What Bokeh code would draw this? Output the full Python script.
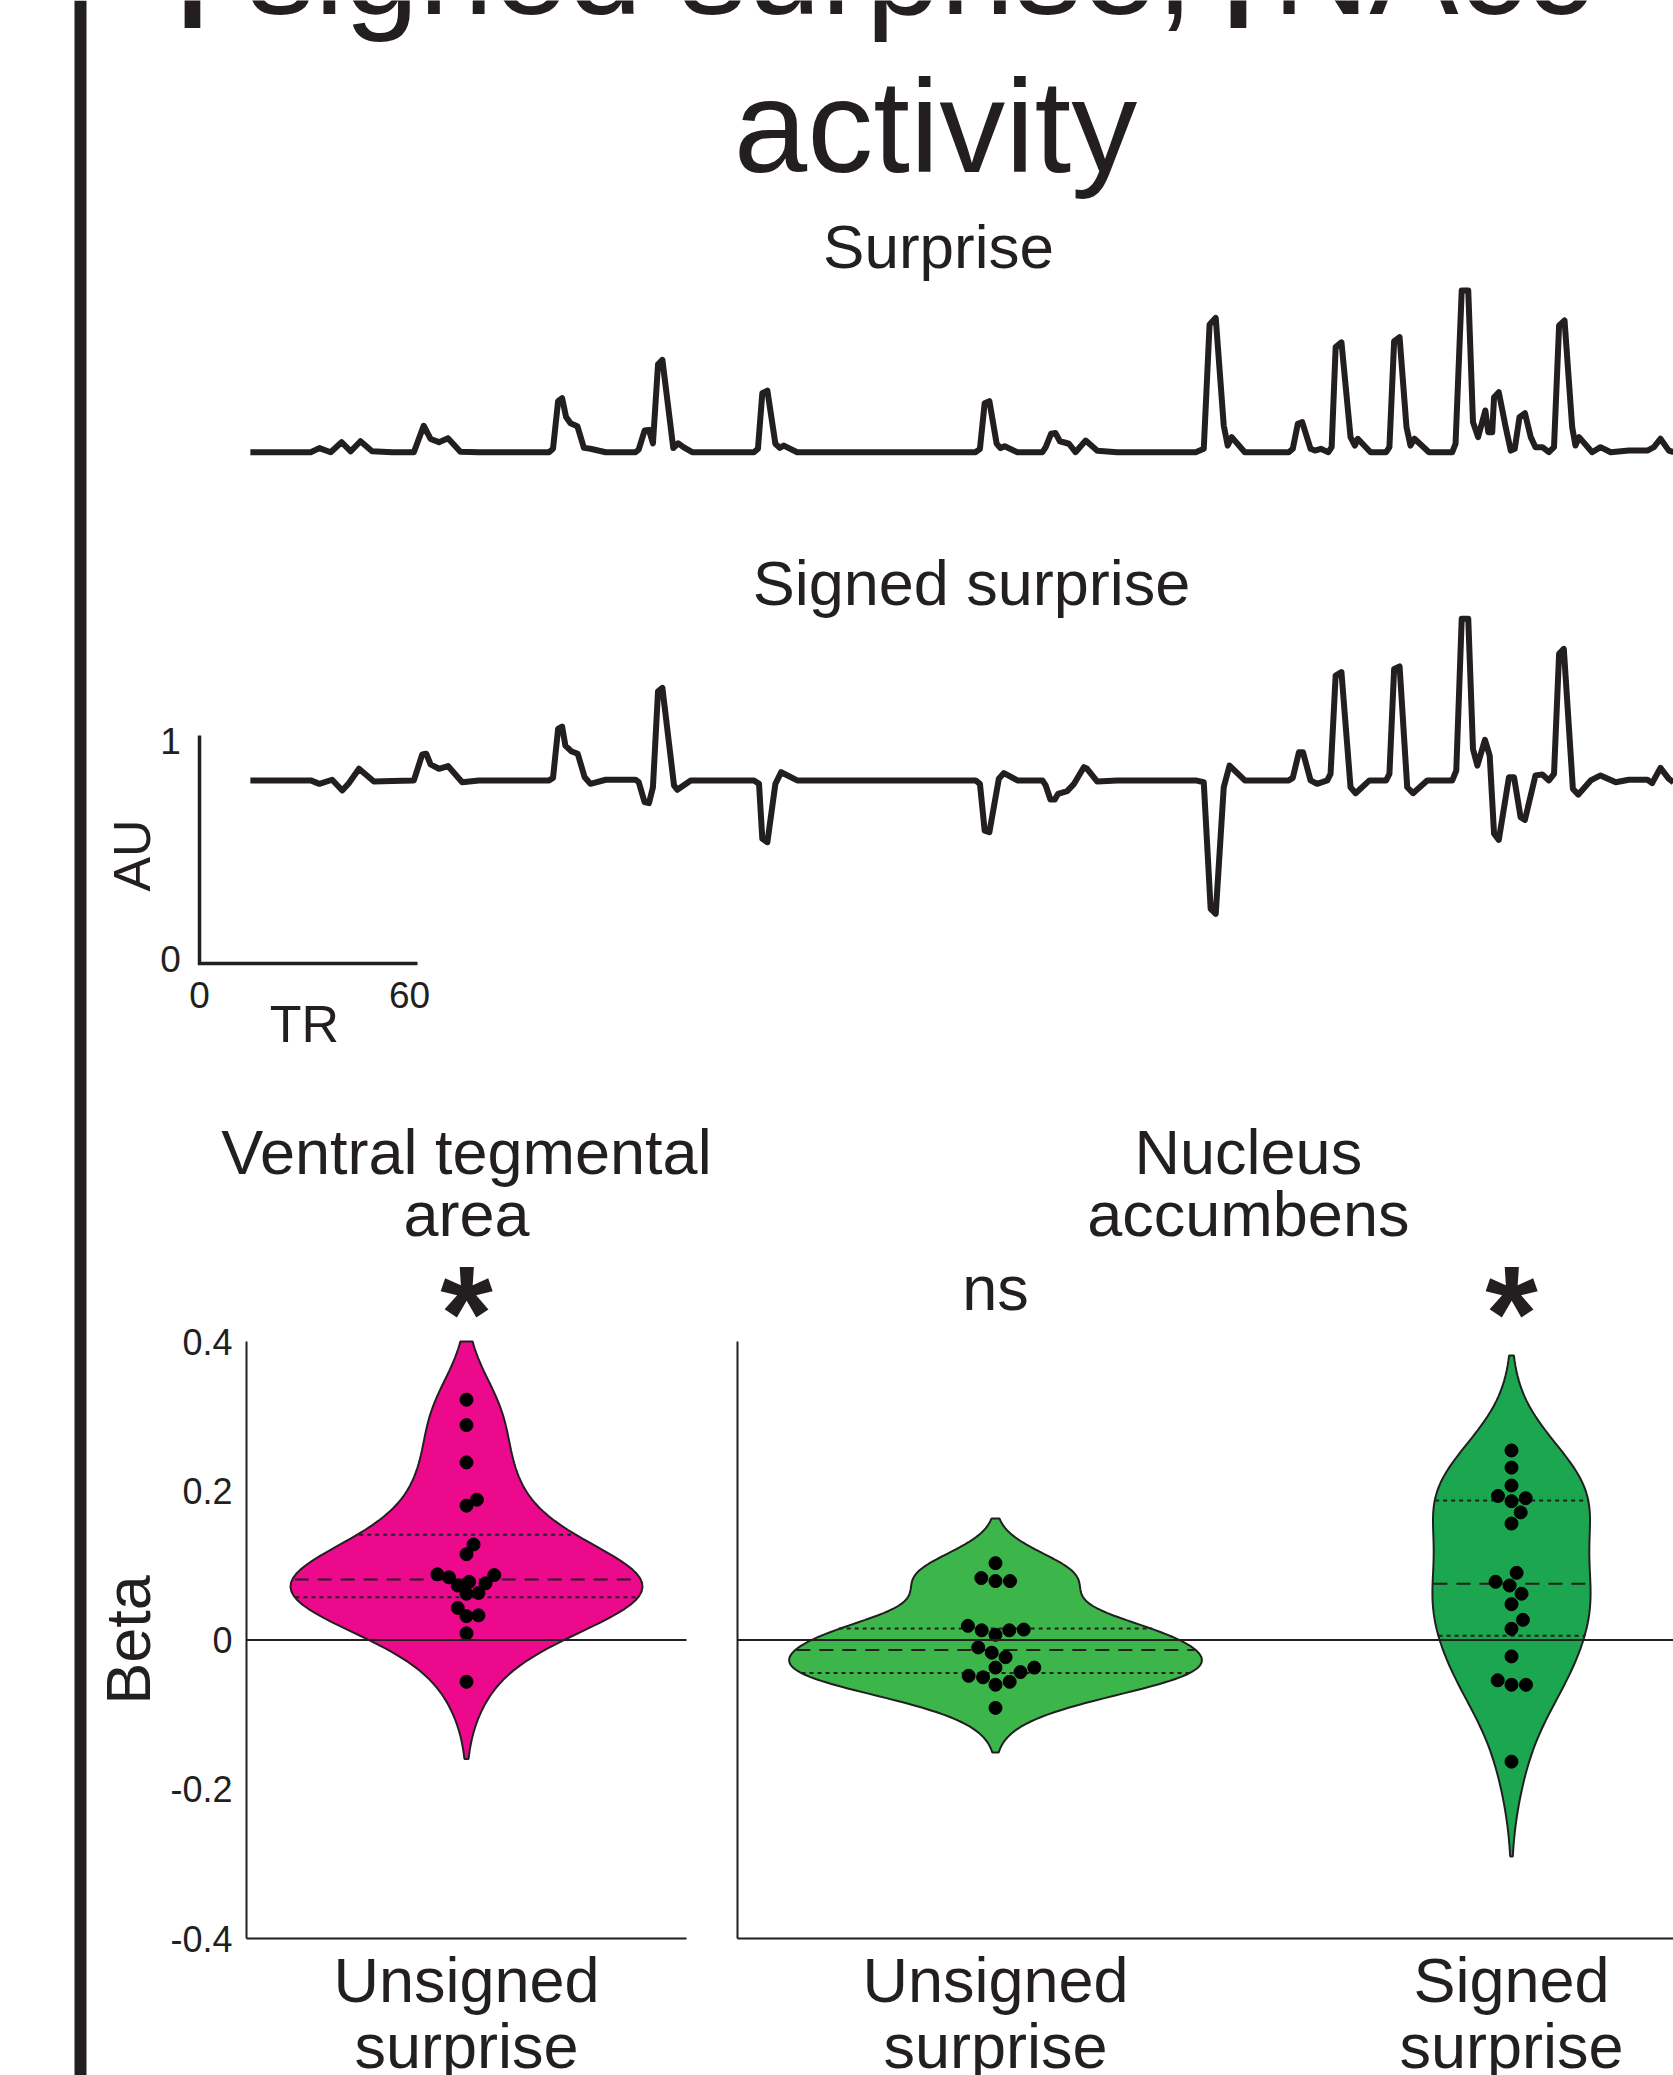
import numpy as np
from bokeh.plotting import figure
from bokeh.models import Range1d, Span, LinearAxis, FixedTicker
from bokeh.embed import file_html
from bokeh.resources import INLINE
from bokeh.core.properties import value

FONT = "Liberation Sans"
ARROW_FONT = "DejaVu Sans"
INK = "#231f20"

# ---------------- data ----------------
title_pieces = ["\u2191", "signed surprise,", "\u2191", "NAcc"]
title_line2 = "activity"
trace_titles = ["Surprise", "Signed surprise"]

# (TR, AU) vertices of the unsigned surprise regressor (AU above its own baseline)
surprise_points = [
    (14.0, 0.000), (30.6, 0.000), (33.0, 0.018), (36.1, 0.000), (39.1, 0.044), (41.6, 0.004),
    (44.3, 0.048), (47.5, 0.004), (53.0, 0.000), (59.0, 0.000), (61.7, 0.116), (63.6, 0.058),
    (65.9, 0.044), (68.4, 0.061), (71.8, 0.002), (76.9, 0.000), (96.2, 0.000), (97.3, 0.015),
    (98.7, 0.224), (99.8, 0.237), (100.9, 0.154), (102.1, 0.127), (104.0, 0.114), (105.8, 0.019),
    (107.6, 0.015), (111.8, 0.000), (120.0, 0.000), (120.9, 0.012), (122.5, 0.095), (123.7, 0.098),
    (124.8, 0.039), (126.2, 0.385), (127.4, 0.405), (130.4, 0.018), (131.7, 0.039), (133.3, 0.021),
    (135.6, 0.000), (152.6, 0.000), (153.7, 0.015), (154.9, 0.259), (156.3, 0.270), (158.5, 0.037),
    (159.7, 0.019), (160.8, 0.029), (164.5, 0.000), (213.6, 0.000), (214.8, 0.015), (216.1, 0.215),
    (217.4, 0.224), (219.4, 0.037), (220.5, 0.018), (221.6, 0.026), (225.1, 0.000), (232.0, 0.000),
    (232.9, 0.022), (234.4, 0.081), (235.6, 0.084), (236.8, 0.048), (239.3, 0.037), (241.1, 0.000),
    (243.9, 0.051), (247.1, 0.006), (252.6, 0.000), (274.2, 0.000), (276.4, 0.015), (278.0, 0.560),
    (279.7, 0.589), (281.9, 0.117), (283.0, 0.029), (284.1, 0.066), (287.7, 0.000), (299.8, 0.000),
    (300.9, 0.015), (302.3, 0.125), (303.5, 0.132), (305.8, 0.015), (307.0, 0.007), (308.6, 0.015),
    (310.7, 0.000), (311.6, 0.022), (312.7, 0.461), (314.3, 0.482), (316.8, 0.066), (318.0, 0.029),
    (318.8, 0.059), (322.3, 0.000), (326.6, 0.000), (327.5, 0.022), (328.8, 0.487), (330.3, 0.504),
    (332.2, 0.110), (333.3, 0.029), (334.4, 0.059), (338.4, 0.000), (344.8, 0.000), (345.7, 0.037),
    (347.4, 0.709), (349.2, 0.709), (350.5, 0.132), (351.9, 0.066), (353.9, 0.183), (354.7, 0.088),
    (355.8, 0.088), (356.3, 0.241), (357.6, 0.263), (359.5, 0.110), (360.9, 0.007), (362.0, 0.015),
    (363.3, 0.154), (364.8, 0.171), (366.4, 0.066), (367.7, 0.022), (369.6, 0.022), (371.4, 0.000),
    (372.8, 0.022), (374.2, 0.556), (375.7, 0.578), (377.8, 0.110), (378.7, 0.029), (379.7, 0.066),
    (383.3, 0.000), (385.6, 0.022), (388.4, 0.000), (393.4, 0.007), (398.5, 0.007), (400.3, 0.022),
    (402.1, 0.059), (404.4, 0.007), (405.7, 0.000),
]

# (TR, AU) vertices of the signed surprise regressor
signed_points = [
    (14.0, 0.803), (30.6, 0.803), (33.0, 0.788), (36.5, 0.806), (39.3, 0.759), (41.1, 0.791),
    (43.9, 0.854), (48.0, 0.798), (53.0, 0.800), (59.0, 0.803), (61.3, 0.917), (62.4, 0.920),
    (63.6, 0.873), (65.9, 0.854), (68.4, 0.866), (72.3, 0.795), (76.9, 0.803), (96.2, 0.803),
    (97.3, 0.814), (98.7, 1.029), (99.8, 1.039), (100.7, 0.956), (102.3, 0.931), (104.1, 0.920),
    (106.0, 0.817), (107.6, 0.788), (111.8, 0.806), (120.0, 0.806), (120.9, 0.795), (122.5, 0.708),
    (123.7, 0.703), (124.8, 0.773), (126.2, 1.194), (127.4, 1.209), (130.6, 0.781), (131.5, 0.762),
    (135.2, 0.803), (152.6, 0.803), (154.0, 0.788), (154.9, 0.547), (156.3, 0.532), (158.5, 0.788),
    (160.1, 0.839), (164.5, 0.803), (213.6, 0.803), (214.8, 0.788), (216.1, 0.583), (217.4, 0.576),
    (220.0, 0.810), (221.4, 0.835), (225.1, 0.803), (232.0, 0.803), (232.9, 0.781), (234.2, 0.719),
    (235.4, 0.719), (236.3, 0.744), (238.8, 0.756), (240.7, 0.788), (243.4, 0.861), (244.3, 0.854),
    (247.1, 0.798), (252.6, 0.803), (274.2, 0.803), (276.4, 0.795), (278.3, 0.240), (279.7, 0.218),
    (281.9, 0.773), (283.5, 0.868), (287.7, 0.803), (299.8, 0.803), (300.9, 0.814), (302.6, 0.927),
    (303.7, 0.927), (305.8, 0.803), (307.6, 0.788), (310.4, 0.803), (311.3, 0.832), (312.7, 1.263),
    (314.3, 1.278), (316.8, 0.773), (318.2, 0.747), (322.0, 0.803), (326.6, 0.803), (327.5, 0.832),
    (328.8, 1.292), (330.3, 1.303), (332.4, 0.773), (334.0, 0.747), (337.9, 0.803), (344.8, 0.803),
    (345.9, 0.846), (347.4, 1.512), (349.2, 1.512), (350.5, 0.941), (351.7, 0.868), (353.8, 0.981),
    (355.1, 0.912), (356.3, 0.569), (357.6, 0.542), (360.4, 0.817), (361.8, 0.817), (363.6, 0.642),
    (364.8, 0.630), (367.7, 0.825), (369.6, 0.829), (371.4, 0.803), (372.8, 0.832), (374.2, 1.358),
    (375.5, 1.380), (378.0, 0.766), (379.5, 0.741), (382.9, 0.803), (385.6, 0.825), (389.8, 0.795),
    (393.4, 0.806), (398.5, 0.806), (399.8, 0.791), (402.1, 0.858), (404.4, 0.810), (405.7, 0.795),
]

scalebar_tr = [0, 60]
scalebar_au = [0, 1]
scalebar_labels = ["TR", "AU"]

region_titles = [["Ventral tegmental", "area"], ["Nucleus", "accumbens"]]
vta_categories = [["Unsigned", "surprise"]]
nacc_categories = [["Unsigned", "surprise"], ["Signed", "surprise"]]
vta_significance = ["*"]
nacc_significance = ["ns", "*"]

vta_unsigned = [0.322, 0.288, 0.238, 0.188, 0.180, 0.128, 0.115, 0.088, 0.087, 0.084,
                0.076, 0.078, 0.073, 0.063, 0.062, 0.043, 0.033, 0.032, 0.009, -0.056]
nacc_unsigned = [0.103, 0.079, 0.079, 0.083, 0.019, 0.013, 0.007, 0.013, 0.014, -0.010,
                 -0.017, -0.023, -0.043, -0.037, -0.037, -0.048, -0.050, -0.056, -0.060, -0.091]
nacc_signed = [0.254, 0.231, 0.207, 0.193, 0.186, 0.190, 0.171, 0.156, 0.090, 0.078,
               0.073, 0.062, 0.048, 0.027, 0.015, -0.022, -0.060, -0.060, -0.054, -0.163]

beta_ticks = [-0.4, -0.2, 0, 0.2, 0.4]
beta_tick_labels = ["-0.4", "-0.2", "0", "0.2", "0.4"]
beta_limits = (-0.4, 0.4)
y_label = "Beta"

VTA_COLOR = "#ec098c"
NACC_COLORS = ["#3cb54a", "#1ca64f"]

# ---------------- layout constants (pixels) ----------------
W, H = 1673, 2075
TR0_PX, PX_PER_TR = 199.0, 218.0 / 60.0
AU0_PX, PX_PER_AU = 963.0, 228.0
SURPRISE_OFFSET = (AU0_PX - 451.7) / PX_PER_AU
BAR_X = 80
BETA0_PX, PX_PER_BETA = 1639.5, 746.25
VTA_CAT0_PX, VTA_PX_PER_CAT = 466.0, 440.0
NACC_CAT0_PX, NACC_PX_PER_CAT = 995.0, 516.0
MID = 0.347  # em-box middle above the alphabetic baseline (Liberation Sans)

p = figure(width=W, height=H, x_range=Range1d(0, W), y_range=Range1d(H, 0),
           x_axis_type=None, y_axis_type=None, min_border=0,
           toolbar_location=None, output_backend="svg")
p.outline_line_color = None
p.grid.visible = False
p.background_fill_color = "white"
p.border_fill_color = "white"

p.extra_x_ranges = {
    "tr": Range1d(-TR0_PX / PX_PER_TR, (W - TR0_PX) / PX_PER_TR),
    "vta": Range1d(-VTA_CAT0_PX / VTA_PX_PER_CAT, (W - VTA_CAT0_PX) / VTA_PX_PER_CAT),
    "nacc": Range1d(-NACC_CAT0_PX / NACC_PX_PER_CAT, (W - NACC_CAT0_PX) / NACC_PX_PER_CAT),
}
p.extra_y_ranges = {
    "au": Range1d((AU0_PX - H) / PX_PER_AU, AU0_PX / PX_PER_AU),
    "beta": Range1d((BETA0_PX - H) / PX_PER_BETA, BETA0_PX / PX_PER_BETA),
}


def put_text(x, y, s, size, angle=0.0, style="normal", align="center", xr="default", yr="default",
             font=FONT):
    """x, y: alphabetic-baseline anchor in the given ranges."""
    if angle == 0.0:
        kw = dict(y_offset=-MID * size)
    else:
        kw = dict(x_offset=-MID * size)
    p.text(x=[x], y=[y], text=[s], text_font=value(font), text_font_size=value(f"{size}px"),
           text_color=INK, text_align=align, text_baseline="middle", angle=angle,
           text_font_style=style, x_range_name=xr, y_range_name=yr, **kw)


def beta_at(px_y):
    return (BETA0_PX - px_y) / PX_PER_BETA


# side bar
p.add_layout(Span(location=BAR_X, dimension="height", line_color=INK, line_width=12))

# ---------------- regressors ----------------
s_tr, s_au = zip(*surprise_points)
p.line(list(s_tr), list(np.array(s_au) + SURPRISE_OFFSET), x_range_name="tr", y_range_name="au",
       line_color=INK, line_width=6, line_join="round")
g_tr, g_au = zip(*signed_points)
p.line(list(g_tr), list(g_au), x_range_name="tr", y_range_name="au",
       line_color=INK, line_width=6, line_join="round")
p.line([scalebar_tr[0], scalebar_tr[0], scalebar_tr[1]], [scalebar_au[1], scalebar_au[0], scalebar_au[0]],
       x_range_name="tr", y_range_name="au", line_color=INK, line_width=3.5, line_join="miter")

put_text(192, 28, title_pieces[0], 134, style="bold", font=ARROW_FONT)
put_text(247, 13, title_pieces[1], 134, align="left")
put_text(1238, 28, title_pieces[2], 134, style="bold", font=ARROW_FONT)
put_text(1272, 13, title_pieces[3], 134, align="left")
put_text(935, 172, title_line2, 132)
put_text(938, 268, trace_titles[0], 62)
put_text(971, 604, trace_titles[1], 63)
put_text(170, 753, str(scalebar_au[1]), 37)
put_text(170, 971, str(scalebar_au[0]), 37)
put_text(199, 1007, str(scalebar_tr[0]), 37)
put_text(409, 1007, str(scalebar_tr[1]), 37)
put_text(304, 1042, scalebar_labels[0], 52)
put_text(150, 855, scalebar_labels[1], 52, angle=np.pi / 2)


# ---------------- violins ----------------
def kde(vals, cut=2.0, gridsize=100):
    v = np.asarray(vals, dtype=float)
    n = len(v)
    bw = n ** (-1.0 / 5.0) * v.std(ddof=1)
    support = np.linspace(v.min() - cut * bw, v.max() + cut * bw, gridsize)
    dens = np.exp(-0.5 * ((support[:, None] - v[None, :]) / bw) ** 2).sum(1) / (n * bw * np.sqrt(2 * np.pi))
    return support, dens


def swarm_offsets(vals, px_per_unit, d):
    v = np.asarray(vals, dtype=float) * px_per_unit
    order = np.argsort(v)
    placed = []
    out = np.zeros(len(v))
    for i in order:
        y = v[i]
        cands = [0.0]
        for (px, py) in placed:
            dy = y - py
            if abs(dy) < d:
                dx = np.sqrt(d * d - dy * dy)
                cands += [px + dx, px - dx]
        cands.sort(key=abs)
        for c in cands:
            if all((c - px) ** 2 + (y - py) ** 2 >= d * d - 1e-6 for (px, py) in placed):
                out[i] = c
                placed.append((c, y))
                break
    return out


def draw_panel(xr, groups, colors, px_per_cat, swarm_d):
    kd = [kde(g) for g in groups]
    dmax = max(d.max() for _, d in kd)
    lo, hi = beta_limits
    for i, (g, (sup, dens), col) in enumerate(zip(groups, kd, colors)):
        w = dens / dmax * 0.4
        keep = (sup >= lo) & (sup <= hi)
        s_c, w_c = sup[keep], w[keep]
        if sup.max() > hi:
            s_c = np.append(s_c, hi)
            w_c = np.append(w_c, np.interp(hi, sup, w))
        if sup.min() < lo:
            s_c = np.insert(s_c, 0, lo)
            w_c = np.insert(w_c, 0, np.interp(lo, sup, w))
        xs = np.concatenate([i + w_c, (i - w_c)[::-1]])
        ys = np.concatenate([s_c, s_c[::-1]])
        p.patch(list(xs), list(ys), x_range_name=xr, y_range_name="beta",
                fill_color=col, line_color=INK, line_width=2)
        q25, q50, q75 = np.percentile(g, [25, 50, 75])
        for q, dash in [(q25, "4 4"), (q50, "14 9"), (q75, "4 4")]:
            hw = w[np.argmin(np.abs(sup - q))] * 0.99
            p.segment(x0=[i - hw], y0=[q], x1=[i + hw], y1=[q], x_range_name=xr, y_range_name="beta",
                      line_color=INK, line_width=2, line_dash=dash)
        off = swarm_offsets(g, PX_PER_BETA, swarm_d) / px_per_cat
        p.scatter(list(i + off), list(g), x_range_name=xr, y_range_name="beta",
                  size=13, fill_color="black", line_color="black")


def add_axes(xr, n_cats, labelled):
    ya = LinearAxis(x_range_name=xr, y_range_name="beta", fixed_location=-0.5, bounds=beta_limits,
                    axis_line_color=INK, axis_line_width=2, major_tick_out=0, major_tick_in=0,
                    minor_tick_out=0, minor_tick_in=0)
    if labelled:
        ya.ticker = FixedTicker(ticks=beta_ticks)
        ya.major_label_overrides = {t: l for t, l in zip(beta_ticks, beta_tick_labels)}
        ya.major_label_text_font = FONT
        ya.major_label_text_font_size = "36px"
        ya.major_label_text_color = INK
        ya.major_label_standoff = 14
    else:
        ya.ticker = FixedTicker(ticks=[])
        ya.major_label_text_font_size = "0px"
    xa = LinearAxis(x_range_name=xr, y_range_name="beta", fixed_location=beta_limits[0],
                    bounds=(-0.5, n_cats - 0.5), ticker=FixedTicker(ticks=[]),
                    axis_line_color=INK, axis_line_width=2, major_tick_out=0, major_tick_in=0,
                    minor_tick_out=0, minor_tick_in=0, major_label_text_font_size="0px")
    p.add_layout(ya, "left")
    p.add_layout(xa, "below")
    # zero reference line
    p.segment(x0=[-0.5], y0=[0], x1=[n_cats - 0.5], y1=[0], x_range_name=xr, y_range_name="beta",
              line_color=INK, line_width=2)


draw_panel("vta", [vta_unsigned], [VTA_COLOR], VTA_PX_PER_CAT, 12.0)
add_axes("vta", 1, True)
draw_panel("nacc", [nacc_unsigned, nacc_signed], NACC_COLORS, NACC_PX_PER_CAT, 14.5)
add_axes("nacc", 2, False)

# region titles, significance and category labels
put_text(0, beta_at(1173.5), region_titles[0][0], 63, xr="vta", yr="beta")
put_text(0, beta_at(1235.5), region_titles[0][1], 63, xr="vta", yr="beta")
put_text(0.49, beta_at(1173.5), region_titles[1][0], 63, xr="nacc", yr="beta")
put_text(0.49, beta_at(1235.5), region_titles[1][1], 63, xr="nacc", yr="beta")

put_text(0, beta_at(1360), vta_significance[0], 135, style="bold", xr="vta", yr="beta")
put_text(0, beta_at(1309), nacc_significance[0], 63, xr="nacc", yr="beta")
put_text(1, beta_at(1360), nacc_significance[1], 135, style="bold", xr="nacc", yr="beta")

for i, cat in enumerate(vta_categories):
    put_text(i, beta_at(2001.7), cat[0], 63, xr="vta", yr="beta")
    put_text(i, beta_at(2067), cat[1], 63, xr="vta", yr="beta")
for i, cat in enumerate(nacc_categories):
    put_text(i, beta_at(2001.7), cat[0], 63, xr="nacc", yr="beta")
    put_text(i, beta_at(2067), cat[1], 63, xr="nacc", yr="beta")

put_text((149.5 - VTA_CAT0_PX) / VTA_PX_PER_CAT, 0, y_label, 63, angle=np.pi / 2, xr="vta", yr="beta")

html = file_html(p, INLINE, title="Signed surprise and NAcc activity")
html = html.replace("<head>", "<head><style>html,body{margin:0;padding:0;}</style>", 1)
open("out.html", "w").write(html)
